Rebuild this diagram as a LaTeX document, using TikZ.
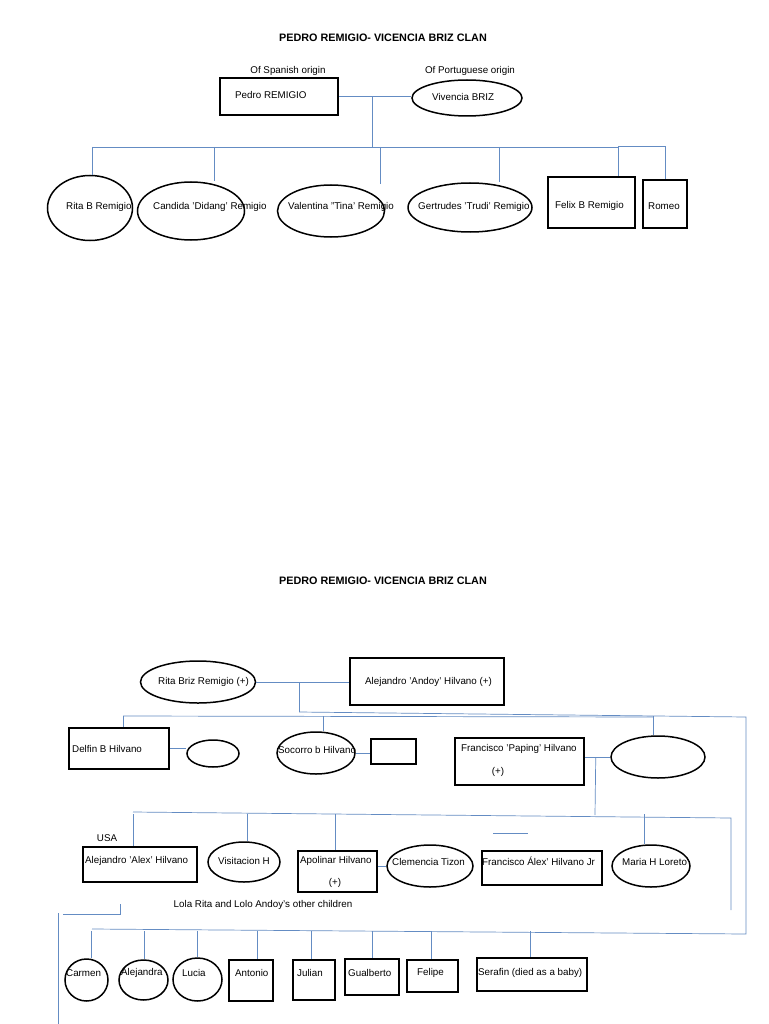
\documentclass[tikz,border=0pt]{standalone}
\usepackage{fontspec}
\setmainfont{Liberation Sans}
\usetikzlibrary{shapes.geometric}

\definecolor{linkblue}{RGB}{100,140,195}

\begin{document}
\begin{tikzpicture}[x=1pt, y=-1pt,
    box/.style={draw, line width=1.5pt, inner sep=0pt},
    oval/.style={draw, ellipse, line width=1.5pt, inner sep=0pt},
    link/.style={draw=linkblue, line width=0.7pt},
    who/.style={anchor=west, inner sep=0pt, font=\fontsize{9.8}{11}\selectfont},
    note/.style={inner sep=0pt, font=\fontsize{9.8}{11}\selectfont},
    clan/.style={inner sep=0pt, font=\bfseries\fontsize{10.8}{12}\selectfont}]

  \useasboundingbox[fill=white] (0,0) rectangle (768,1024);

  % ---------- first sheet ----------
  \node[clan] (title1) at (383,38) {PEDRO REMIGIO- VICENCIA BRIZ CLAN};
  \node[note] (spanish) at (288,71) {Of Spanish origin};
  \node[note] (portuguese) at (470,71) {Of Portuguese origin};

  \node[box, minimum width=118pt, minimum height=37pt] (pedro) at (279,96.5) {};
  \node[who] (t-pedro) at (235,95) {Pedro REMIGIO};
  \node[oval, minimum width=110pt, minimum height=36pt] (vivencia) at (467,98) {};
  \node[who] (t-vivencia) at (432,97) {Vivencia BRIZ};

  \node[oval, minimum width=85pt, minimum height=65pt] (rita) at (90,208) {};
  \node[who] (t-rita) at (66,207) {Rita B Remigio};
  \node[oval, minimum width=107pt, minimum height=58pt] (candida) at (191,211) {};
  \node[who] (t-candida) at (153,207) {Candida 'Didang' Remigio};
  \node[oval, minimum width=107pt, minimum height=52pt] (valentina) at (331,211) {};
  \node[who] (t-valentina) at (288,207) {Valentina "Tina' Remigio};
  \node[oval, minimum width=124pt, minimum height=49pt] (gertrudes) at (470,207.5) {};
  \node[who] (t-gertrudes) at (418,207) {Gertrudes 'Trudi' Remigio};
  \node[box, minimum width=87pt, minimum height=51pt] (felix) at (591.5,202.5) {};
  \node[who] (t-felix) at (555,206) {Felix B Remigio};
  \node[box, minimum width=44pt, minimum height=48pt] (romeo) at (665,204) {};
  \node[who] (t-romeo) at (648,206) {Romeo};

  \coordinate (kids1) at (372,147);
  \draw[link] (pedro.east) -- (pedro.east -| vivencia.west);
  \draw[link] (pedro.east -| kids1) -- (kids1);
  \draw[link] (92,147) -- (618,147) -- (618,146) -- (665,146) -- (romeo.north);
  \foreach \x/\n in {92/rita, 214/candida, 380/valentina, 499/gertrudes, 618/felix}
    \draw[link] (\x,147) -- (\x,147 |- \n.north);

  % ---------- second sheet ----------
  \node[clan] (title2) at (383,581) {PEDRO REMIGIO- VICENCIA BRIZ CLAN};

  \node[oval, minimum width=115pt, minimum height=42pt] (ritab) at (198,682) {};
  \node[who] (t-ritab) at (158,682) {Rita Briz Remigio (+)};
  \node[box, minimum width=154pt, minimum height=47pt] (andoy) at (427,681.5) {};
  \node[who] (t-andoy) at (365,682) {Alejandro 'Andoy' Hilvano (+)};

  \node[box, minimum width=100pt, minimum height=41pt] (delfin) at (119,748.5) {};
  \node[who] (t-delfin) at (72,749) {Delfin B Hilvano};
  \node[oval, minimum width=52pt, minimum height=27pt] (delfinsp) at (213,753.5) {};
  \node[oval, minimum width=78pt, minimum height=42pt] (socorro) at (316,753) {};
  \node[who] (t-socorro) at (278,750) {Socorro b Hilvano};
  \node[box, minimum width=45pt, minimum height=25pt] (socorrosp) at (393.5,751.5) {};
  \node[box, minimum width=129pt, minimum height=47pt] (paping) at (519.5,761.5) {};
  \node[who] (t-paping) at (461,749) {Francisco 'Paping' Hilvano};
  \node[note] (d-paping) at (498,772) {(+)};
  \node[oval, minimum width=94pt, minimum height=42pt] (papingsp) at (658,757) {};

  \node[note] (usa) at (107,838) {USA};
  \node[box, minimum width=114pt, minimum height=35pt] (alex) at (140,864.5) {};
  \node[who] (t-alex) at (85,861) {Alejandro 'Alex' Hilvano};
  \node[oval, minimum width=72pt, minimum height=40pt] (visitacion) at (244,862) {};
  \node[who] (t-visitacion) at (218,861) {Visitacion H};
  \node[box, minimum width=79pt, minimum height=41pt] (apolinar) at (337.5,871.5) {};
  \node[who] (t-apolinar) at (300,861) {Apolinar Hilvano};
  \node[note] (d-apolinar) at (335,883) {(+)};
  \node[oval, minimum width=86pt, minimum height=42pt] (clemencia) at (430,866) {};
  \node[who] (t-clemencia) at (392,862) {Clemencia Tizon};
  \node[box, minimum width=120pt, minimum height=34pt] (pacojr) at (542,868) {};
  \node[who] (t-pacojr) at (482,861) {Francisco Álex' Hilvano Jr};
  \node[oval, minimum width=78pt, minimum height=42pt] (maria) at (651,866) {};
  \node[who] (t-maria) at (622,862) {Maria H Loreto};

  \node[note] (others) at (263,905) {Lola Rita and Lolo Andoy's other children};

  \node[oval, minimum width=43pt, minimum height=42pt] (carmen) at (86.5,980) {};
  \node[who] (t-carmen) at (66,973) {Carmen};
  \node[oval, minimum width=49pt, minimum height=40pt] (alejandra) at (143.5,980) {};
  \node[who] (t-alejandra) at (121,973) {Alejandra};
  \node[oval, minimum width=49pt, minimum height=43pt] (lucia) at (197.5,979.5) {};
  \node[who] (t-lucia) at (182,973) {Lucia};
  \node[box, minimum width=44pt, minimum height=41pt] (antonio) at (251,980.5) {};
  \node[who] (t-antonio) at (235,973) {Antonio};
  \node[box, minimum width=42pt, minimum height=40pt] (julian) at (314,980) {};
  \node[who] (t-julian) at (297,973) {Julian};
  \node[box, minimum width=54pt, minimum height=36pt] (gualberto) at (372,977) {};
  \node[who] (t-gualberto) at (348,973) {Gualberto};
  \node[box, minimum width=51pt, minimum height=32pt] (felipe) at (432.5,976) {};
  \node[who] (t-felipe) at (417,973) {Felipe};
  \node[box, minimum width=110pt, minimum height=33pt] (serafin) at (532,974.5) {};
  \node[who] (t-serafin) at (478,973) {Serafin (died as a baby)};

  % couple and their children
  \coordinate (kids2) at (299,712);
  \draw[link] (ritab.east) -- (ritab.east -| andoy.west);
  \draw[link] (ritab.east -| kids2) -- (kids2);
  \draw[link] (123,716) -- (653,717);
  \foreach \x/\n in {123/delfin, 323/socorro, 653/papingsp}
    \draw[link] (\x,716) -- (\x,716 |- \n.north);
  \draw[link] (kids2) -- (746,717) -- (746,934) -- (92,929);

  % spouses
  \draw[link] (delfin.east) -- (delfin.east -| delfinsp.west);
  \draw[link] (socorro.east) -- (socorro.east -| socorrosp.west);
  \draw[link] (paping.east |- papingsp.west) -- (papingsp.west);
  \draw[link] (apolinar.east |- clemencia.west) -- (clemencia.west);

  % Paping's children
  \coordinate (kids3) at (595,815);
  \draw[link] (paping.east |- papingsp.west) ++(11,0) -- (kids3);
  \draw[link] (133,812) -- (731,818) -- (731,910);
  \foreach \x/\n in {133/alex, 247/visitacion, 335/apolinar, 644/maria}
    \draw[link] (\x,814) -- (\x,814 |- \n.north);
  \draw[link] (493,833) -- (528,833);

  % loose lines
  \draw[link] (120,904) -- (120,914) -- (63,914);
  \draw[link] (58,913) -- (58,1024);

  % other children
  \foreach \x/\n in {91/carmen, 144/alejandra, 197/lucia, 257/antonio, 311/julian, 372/gualberto, 431/felipe, 530/serafin}
    \draw[link] (\x,931) -- (\x,931 |- \n.north);
\end{tikzpicture}
\end{document}
